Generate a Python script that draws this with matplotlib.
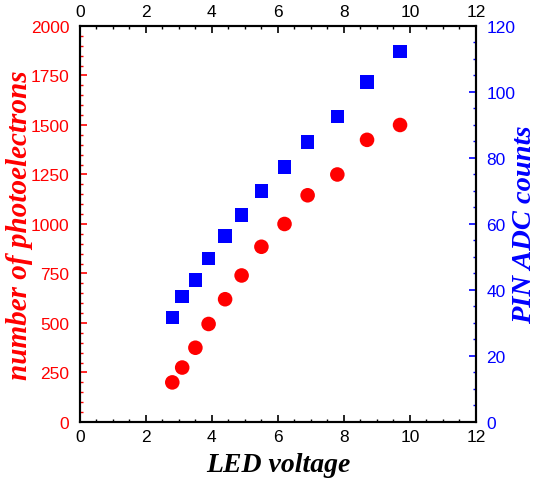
import matplotlib
matplotlib.use("Agg")
import matplotlib.pyplot as plt
from matplotlib.ticker import MultipleLocator

# LED scan data
led_voltage = [2.8, 3.1, 3.5, 3.9, 4.4, 4.9, 5.5, 6.2, 6.9, 7.8, 8.7, 9.7]
photoelectrons = [200, 275, 375, 495, 620, 740, 885, 1000, 1145, 1250, 1425, 1500]
pin_adc = [31.6, 38.0, 43.0, 49.5, 56.3, 62.7, 70.0, 77.2, 84.8, 92.6, 103.0, 112.2]

RED = "#ff0000"
BLUE = "#0000ff"
tick_font = "Liberation Sans"
label_font = dict(family="Liberation Serif", weight="bold", style="italic")

fig = plt.figure(figsize=(5.36, 4.81), dpi=100)
ax = fig.add_axes([0.149, 0.1206, 0.739, 0.8233])
ax2 = ax.twinx()

ax.scatter(led_voltage, photoelectrons, s=110, marker="o", color=RED,
           edgecolors="none", zorder=3, clip_on=False)
ax2.scatter(led_voltage, pin_adc, s=95, marker="s", color=BLUE,
            edgecolors="none", zorder=3, clip_on=False)

ax.set_xlim(0, 12)
ax.set_ylim(0, 2000)
ax2.set_ylim(0, 120)

ax.xaxis.set_major_locator(MultipleLocator(2))
ax.xaxis.set_minor_locator(MultipleLocator(0.5))
ax.yaxis.set_major_locator(MultipleLocator(250))
ax.yaxis.set_minor_locator(MultipleLocator(50))
ax2.yaxis.set_major_locator(MultipleLocator(20))
ax2.yaxis.set_minor_locator(MultipleLocator(5))

for a in (ax, ax2):
    for sp in a.spines.values():
        sp.set_linewidth(1.5)
        sp.set_color("black")

ax.tick_params(axis="x", which="both", direction="in", top=True, bottom=True,
               labeltop=True, labelbottom=True, colors="black", labelsize=12.5, pad=5)
ax.tick_params(axis="x", which="major", length=5, width=1.2)
ax.tick_params(axis="x", which="minor", length=2.5, width=1.0)
ax.tick_params(axis="y", which="both", direction="in", colors=RED, labelsize=12.5, pad=7.5)
ax.tick_params(axis="y", which="major", length=5, width=1.2)
ax.tick_params(axis="y", which="minor", length=2.5, width=1.0)
ax2.tick_params(axis="y", which="both", direction="in", colors=BLUE, labelsize=12.5, pad=7.5)
ax2.tick_params(axis="y", which="major", length=5, width=1.2)
ax2.tick_params(axis="y", which="minor", length=2.5, width=1.0)

for t in ax.xaxis.get_major_ticks():
    t.label1.set_family(tick_font)
    t.label2.set_family(tick_font)
for t in ax.yaxis.get_major_ticks():
    t.label1.set_family(tick_font)
for t in ax2.yaxis.get_major_ticks():
    t.label2.set_family(tick_font)

ax.set_xlabel("LED voltage", color="black", size=20, labelpad=6, **label_font)
ax.set_ylabel("number of photoelectrons", color=RED, size=21, **label_font)
ax2.set_ylabel("PIN ADC counts", color=BLUE, size=20.5, **label_font)
ax.yaxis.set_label_coords(-0.118, 0.5)
ax2.yaxis.set_label_coords(1.091, 0.5)

fig.savefig("out.png", dpi=100)
